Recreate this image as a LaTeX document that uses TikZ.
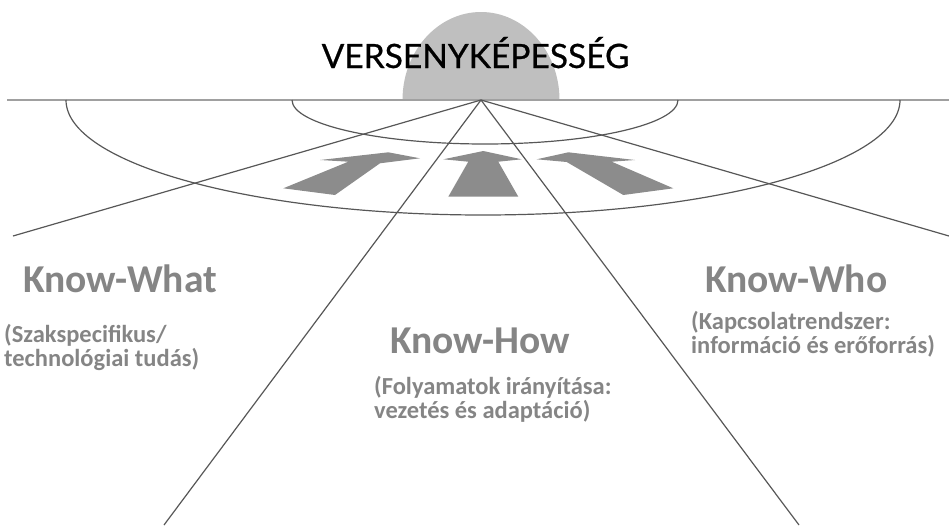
\documentclass[tikz,border=0pt]{standalone}
\usepackage{fontspec}
\setmainfont{Carlito}
\newfontfamily\gillfont[FakeBold=0.7]{Lato}
\usetikzlibrary{positioning}
\definecolor{ink}{HTML}{575757}
\definecolor{sun}{HTML}{BFBFBF}
\definecolor{flat}{HTML}{A0A0A0}
\definecolor{push}{HTML}{8C8C8C}
\definecolor{soft}{HTML}{858585}

\begin{document}
\begin{tikzpicture}[x=1pt, y=-1pt,
  ray/.style={draw=ink, line width=1.2pt},
  rim/.style={draw=ink, line width=1.2pt},
  flow/.style={fill=push},
  know/.style={text=soft, font=\fontsize{39.5}{44}\selectfont\bfseries, inner sep=0pt, anchor=base west},
  note/.style={text=soft, font=\fontsize{24.5}{23.5}\selectfont\bfseries, inner sep=0pt, align=left, anchor=base west}]
  \useasboundingbox (0,0) rectangle (949,525);
  \coordinate (apex) at (481,100);
  \fill[sun] (402.5,100) arc[start angle=180, end angle=360, x radius=78.5, y radius=88];
  \draw[flat, line width=2.4pt] (7,100) -- (949,100);
  \node[font=\gillfont\fontsize{33.5}{40}\selectfont, inner sep=0pt, anchor=base] (title) at (475.5,68) {VERSENYKÉPESSÉG};
  \draw[rim] (678,100) arc[start angle=0, end angle=180, x radius=193, y radius=44];
  \draw[rim] (900,100) arc[start angle=0, end angle=180, x radius=417, y radius=115];
  \coordinate (whatEnd) at (13,236);
  \coordinate (howL) at (164,525);
  \coordinate (howR) at (799,525);
  \coordinate (whoEnd) at (949,236);
  \draw[ray] (apex) -- (whatEnd);
  \draw[ray] (apex) -- (howL);
  \draw[ray] (apex) -- (howR);
  \draw[ray] (apex) -- (whoEnd);
  \fill[flow] (320,160) -- (388.3,152.3) -- (420,158.3) -- (380,163.3) -- (335,195) -- (283.3,188.3) -- (348.3,161.7) -- cycle;
  \fill[flow] (443.3,159.3) -- (483.3,151) -- (521.7,159.3) -- (498.3,161.7) -- (518.3,196.7) -- (448.3,196.7) -- (468.3,161.7) -- cycle;
  \fill[flow] (536.7,159.3) -- (568.3,152.3) -- (635,160) -- (611.7,161.7) -- (673.3,188.3) -- (623.3,195) -- (566.7,162) -- cycle;
  \node[know] (what) at (23,292) {Know-What};
  \node[note] (whatnote) at (4,366) {(Szakspecifikus/\\technológiai tudás)};
  \node[know] (how) at (390,353) {Know-How};
  \node[note] (hownote) at (374,418) {(Folyamatok irányítása:\\vezetés és adaptáció)};
  \node[know] (who) at (705,292) {Know-Who};
  \node[note] (whonote) at (691,353) {(Kapcsolatrendszer:\\információ és erőforrás)};
\end{tikzpicture}
\end{document}
